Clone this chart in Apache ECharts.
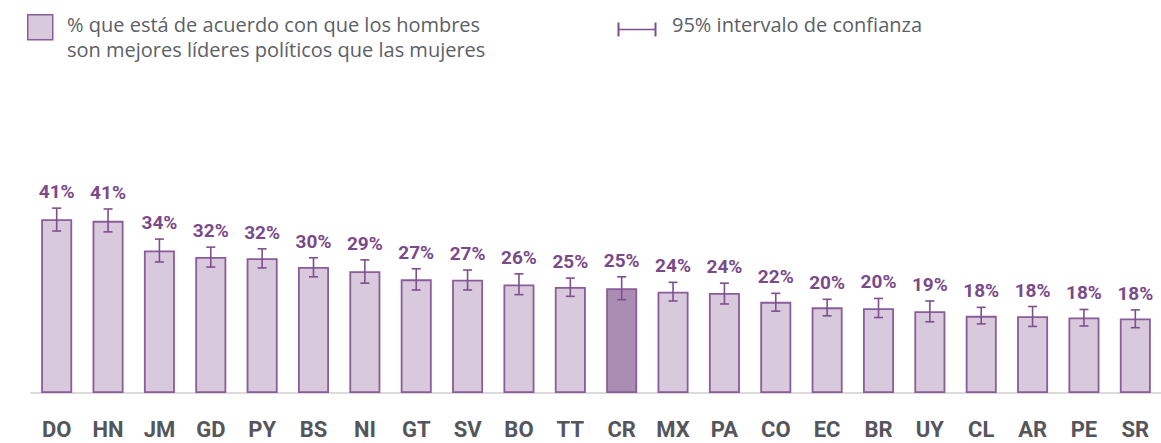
<!DOCTYPE html>
<html>
<head>
<meta charset="utf-8">
<script src="https://cdn.jsdelivr.net/npm/echarts@6/dist/echarts.min.js"></script>
<style>
  html, body { margin: 0; padding: 0; background: #ffffff; }
  #chart { width: 1161px; height: 443px; }
</style>
</head>
<body>
<div id="chart"></div>
<script>
// Data
const categories = ['DO','HN','JM','GD','PY','BS','NI','GT','SV','BO','TT','CR','MX','PA','CO','EC','BR','UY','CL','AR','PE','SR'];
const values     = [41.0, 40.6, 33.6, 32.1, 31.8, 29.7, 28.7, 26.8, 26.7, 25.6, 25.0, 24.7, 23.9, 23.6, 21.5, 20.2, 20.0, 19.3, 18.2, 18.1, 17.8, 17.6];
const ciLow      = [38.2, 38.0, 30.9, 29.7, 29.5, 27.4, 25.9, 24.3, 24.3, 23.2, 22.8, 22.0, 21.7, 21.0, 19.3, 18.2, 17.8, 16.8, 16.3, 15.7, 15.8, 15.4];
const ciHigh     = [43.6, 43.4, 36.3, 34.4, 34.0, 31.9, 31.4, 29.3, 29.0, 28.1, 27.1, 27.4, 26.1, 25.9, 23.5, 22.1, 22.3, 21.7, 20.2, 20.4, 19.7, 19.6];
const highlighted = 'CR';
const legendBarText = '% que está de acuerdo con que los hombres\nson mejores líderes políticos que las mujeres';
const legendCiText = '95% intervalo de confianza';

const PURPLE = '#7e4f8e';
const LIGHT = '#d9c9dd';
const DARK = '#ab8db4';

const chart = echarts.init(document.getElementById('chart'), null, { renderer: 'svg' });

const barData = values.map((v, i) => ({
  value: v,
  itemStyle: { color: categories[i] === highlighted ? DARK : LIGHT }
}));
const errData = categories.map((c, i) => [i, ciLow[i], ciHigh[i], values[i]]);

chart.setOption({
  animation: false,
  backgroundColor: '#ffffff',
  grid: { left: 31, width: 1138, top: 181, height: 212, containLabel: false },
  xAxis: {
    type: 'category',
    data: categories,
    axisLine: { show: true, lineStyle: { color: '#cfcfcf', width: 1.5 } },
    axisTick: { show: false },
    axisLabel: {
      margin: 25,
      fontFamily: 'Roboto',
      fontWeight: 'bold',
      fontSize: 22,
      lineHeight: 22,
      color: '#54565c'
    }
  },
  yAxis: { type: 'value', min: 0, max: 50, show: false, splitLine: { show: false } },
  series: [
    {
      type: 'bar',
      data: barData,
      barWidth: 31,
      itemStyle: { borderColor: '#8a5c99', borderWidth: 1.8 },
      z: 2
    },
    {
      type: 'custom',
      data: errData,
      z: 5,
      renderItem: function (params, api) {
        const i = api.value(0);
        const lo = api.coord([i, api.value(1)]);
        const hi = api.coord([i, api.value(2)]);
        const half = 4.5;
        const style = { stroke: PURPLE, lineWidth: 1.6 };
        return {
          type: 'group',
          children: [
            { type: 'line', shape: { x1: hi[0], y1: hi[1], x2: lo[0], y2: lo[1] }, style: style },
            { type: 'line', shape: { x1: hi[0] - half, y1: hi[1], x2: hi[0] + half, y2: hi[1] }, style: style },
            { type: 'line', shape: { x1: lo[0] - half, y1: lo[1], x2: lo[0] + half, y2: lo[1] }, style: style },
            {
              type: 'text',
              x: hi[0], y: hi[1] - 7,
              style: {
                text: Math.round(api.value(3)) + '%',
                fill: '#7a4a8a',
                font: 'bold 19px Roboto',
                align: 'center',
                verticalAlign: 'bottom'
              }
            }
          ]
        };
      }
    }
  ],
  graphic: [
    { type: 'rect', left: 27, top: 14, shape: { width: 25, height: 25 },
      style: { fill: LIGHT, stroke: '#8a5c99', lineWidth: 1.5 } },
    { type: 'text', left: 67, top: 12,
      style: { text: legendBarText, font: '20px "Open Sans"', fill: '#5c5f66', lineHeight: 25 } },
    { type: 'group', left: 616, top: 20, children: [
      { type: 'line', shape: { x1: 1, y1: 0, x2: 1, y2: 14 }, style: { stroke: PURPLE, lineWidth: 2 } },
      { type: 'line', shape: { x1: 1, y1: 7, x2: 38, y2: 7 }, style: { stroke: PURPLE, lineWidth: 1.5 } },
      { type: 'line', shape: { x1: 38, y1: 0, x2: 38, y2: 14 }, style: { stroke: PURPLE, lineWidth: 2 } }
    ] },
    { type: 'text', left: 672, top: 12,
      style: { text: legendCiText, font: '20px "Open Sans"', fill: '#5c5f66', lineHeight: 25 } }
  ]
});
</script>
</body>
</html>
